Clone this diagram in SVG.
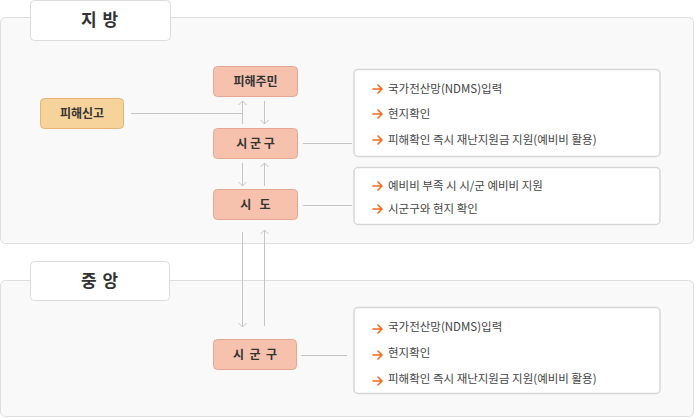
<svg xmlns="http://www.w3.org/2000/svg" width="695" height="418" viewBox="0 0 695 418">
<defs>
<style>
.panel{fill:#f9f9f9;stroke:#dedede;stroke-width:1}
.tab{fill:#ffffff;stroke:#dcdcdc;stroke-width:1}
.tabt{font-family:"Noto Sans CJK KR","Noto Sans",sans-serif;font-size:17px;font-weight:bold;fill:#333;text-anchor:middle;letter-spacing:1px}
.node{fill:#f6c2ae;stroke:#e5a792;stroke-width:1}
.node2{fill:#f6d39a;stroke:#e3b676;stroke-width:1}
.nt{font-family:"Noto Sans CJK KR","Noto Sans",sans-serif;font-size:12px;font-weight:bold;fill:#333;text-anchor:middle}
.info{fill:#ffffff;stroke:#d6d6d6;stroke-width:1.5}
.it{font-family:"Noto Sans CJK KR","Noto Sans",sans-serif;font-size:11.5px;fill:#444}
.ln{stroke:#c4c4c4;stroke-width:1;fill:none}
.oa{stroke:#f26a1b;stroke-width:1.6;fill:none;stroke-linecap:round;stroke-linejoin:round}
</style>
<marker id="ah" viewBox="0 0 10 10" refX="9" refY="5" markerWidth="10" markerHeight="10" markerUnits="userSpaceOnUse" orient="auto">
<path d="M5,1 L9,5 L5,9" fill="none" stroke="#c4c4c4" stroke-width="1"/>
</marker>
<symbol id="oarr" viewBox="0 0 12 10" overflow="visible">
<path class="oa" d="M1,5 H10 M6,1 L10,5 L6,9"/>
</symbol>
</defs>

<g id="panel-local">
<rect class="panel" x="0.5" y="17.5" width="693" height="226" rx="5"/>
<rect class="tab" x="30.5" y="0.5" width="140" height="40" rx="4"/>
<text class="tabt" x="100" y="26">지 방</text>
</g>
<g id="panel-central">
<rect class="panel" x="0.5" y="280.5" width="693" height="136" rx="5"/>
<rect class="tab" x="30.5" y="261.5" width="139" height="39" rx="4"/>
<text class="tabt" x="100" y="287">중 앙</text>
</g>

<g id="connectors">
<path class="ln" d="M131,113.5 H242"/>
<path class="ln" d="M242.5,124 V101" marker-end="url(#ah)"/>
<path class="ln" d="M264.5,101 V124" marker-end="url(#ah)"/>
<path class="ln" d="M242.5,163 V186" marker-end="url(#ah)"/>
<path class="ln" d="M264.5,186 V163" marker-end="url(#ah)"/>
<path class="ln" d="M242.5,232 V327" marker-end="url(#ah)"/>
<path class="ln" d="M264.5,326 V230" marker-end="url(#ah)"/>
<path class="ln" d="M303,143.5 H352"/>
<path class="ln" d="M303,205.5 H352"/>
<path class="ln" d="M301,355.5 H347"/>
</g>

<g id="node-report">
<rect class="node2" x="40.5" y="98.5" width="83" height="30" rx="4"/>
<text class="nt" x="82" y="118">피해신고</text>
</g>
<g id="node-resident">
<rect class="node" x="213.5" y="66.5" width="84" height="30" rx="4"/>
<text class="nt" x="255.5" y="86">피해주민</text>
</g>
<g id="node-sigungu">
<rect class="node" x="213.5" y="128.5" width="84" height="30" rx="4"/>
<text class="nt" x="255.5" y="148">시 군 구</text>
</g>
<g id="node-sido">
<rect class="node" x="213.5" y="189.5" width="84" height="30" rx="4"/>
<text class="nt" x="255.5" y="209" xml:space="preserve">시   도</text>
</g>
<g id="node-sigungu2">
<rect class="node" x="213.5" y="339.5" width="83" height="30" rx="4"/>
<text class="nt" x="255" y="359" xml:space="preserve">시  군  구</text>
</g>

<g id="info-1">
<rect class="info" x="354" y="69.5" width="306" height="87" rx="4"/>
<use href="#oarr" x="372" y="84" width="12" height="10"/>
<text class="it" x="388" y="93">국가전산망(NDMS)입력</text>
<use href="#oarr" x="372" y="109" width="12" height="10"/>
<text class="it" x="388" y="118">현지확인</text>
<use href="#oarr" x="372" y="135" width="12" height="10"/>
<text class="it" x="388" y="144">피해확인 즉시 재난지원금 지원(예비비 활용)</text>
</g>
<g id="info-2">
<rect class="info" x="354" y="167.5" width="306" height="57" rx="4"/>
<use href="#oarr" x="372" y="181" width="12" height="10"/>
<text class="it" x="388" y="190">예비비 부족 시 시/군 예비비 지원</text>
<use href="#oarr" x="372" y="204" width="12" height="10"/>
<text class="it" x="388" y="213">시군구와 현지 확인</text>
</g>
<g id="info-3">
<rect class="info" x="354" y="307.5" width="306" height="86" rx="4"/>
<use href="#oarr" x="372" y="324" width="12" height="10"/>
<text class="it" x="388" y="331">국가전산망(NDMS)입력</text>
<use href="#oarr" x="372" y="350" width="12" height="10"/>
<text class="it" x="388" y="357">현지확인</text>
<use href="#oarr" x="372" y="376" width="12" height="10"/>
<text class="it" x="388" y="383">피해확인 즉시 재난지원금 지원(예비비 활용)</text>
</g>
</svg>
